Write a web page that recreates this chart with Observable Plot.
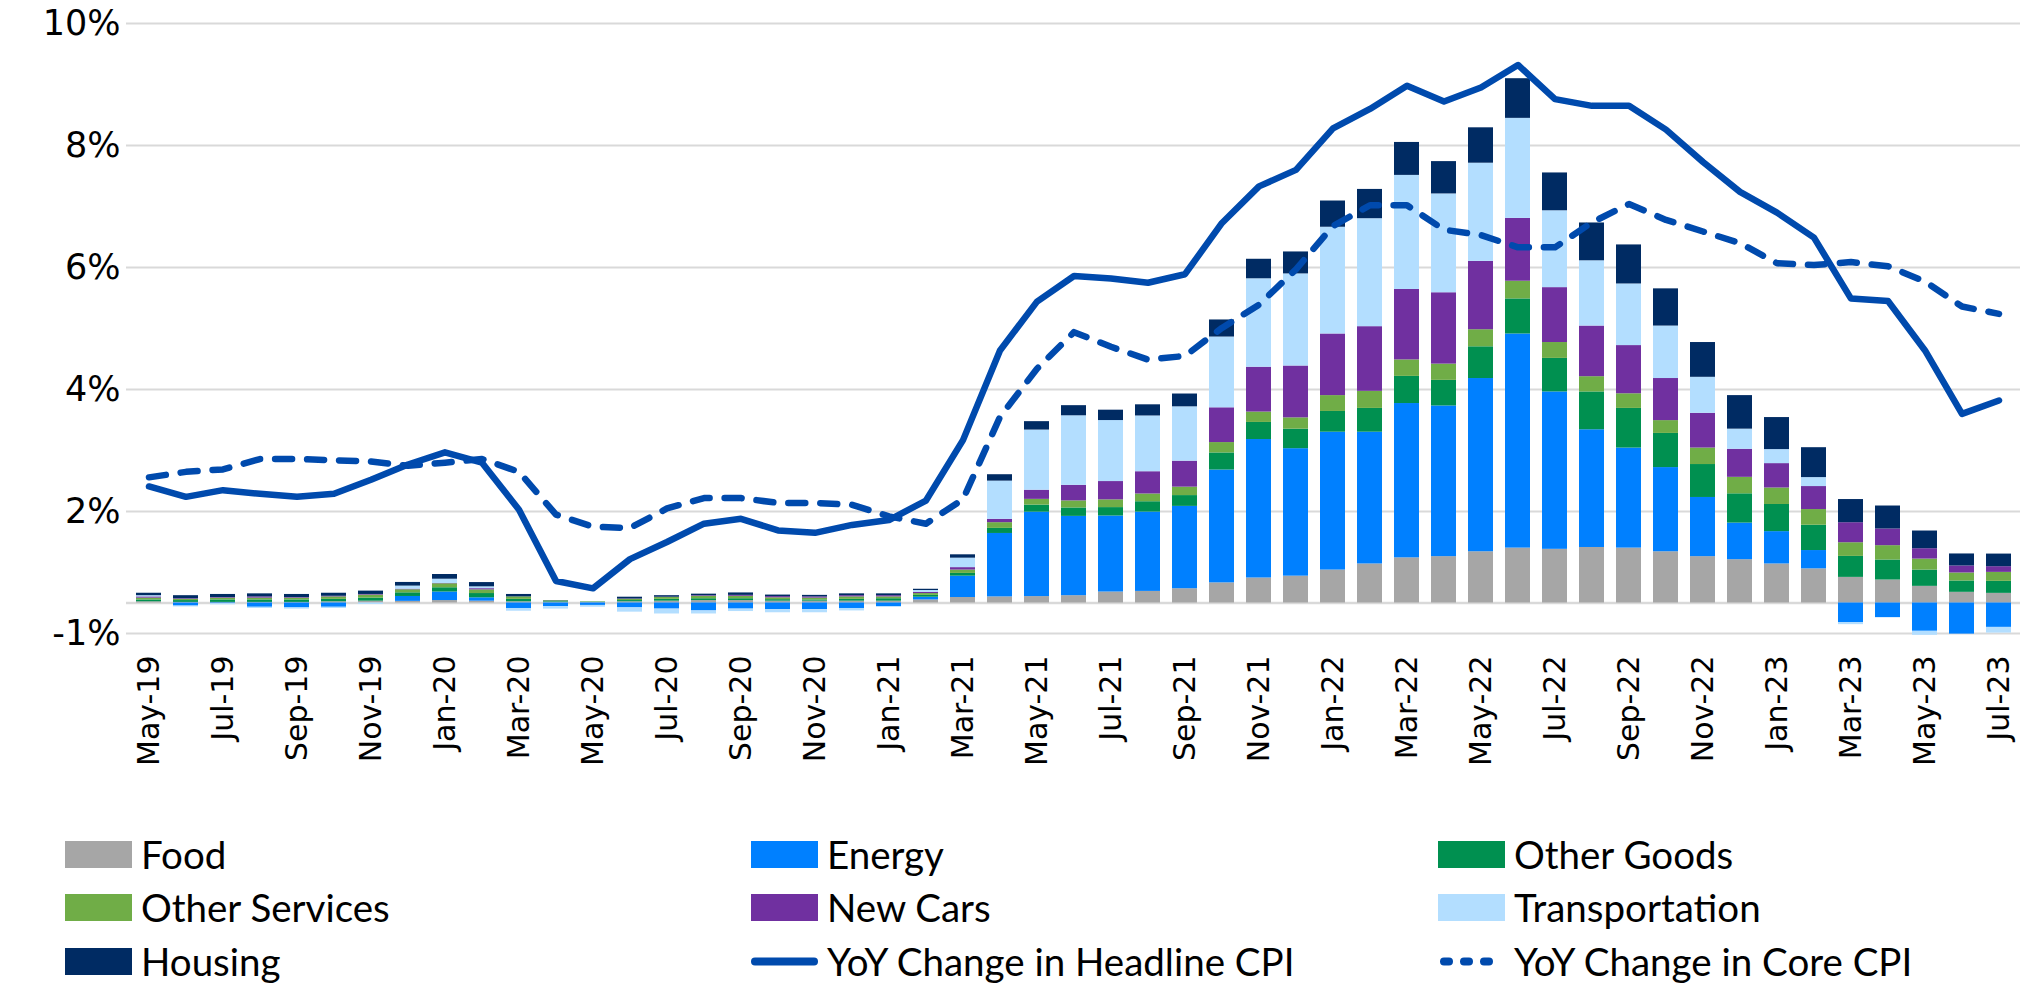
<!DOCTYPE html>
<html><head><meta charset="utf-8">
<script src="https://cdn.jsdelivr.net/npm/d3@7"></script>
<script src="https://cdn.jsdelivr.net/npm/@observablehq/plot@0.6"></script>
<style>
body{margin:0;background:#fff;}
#chart svg{display:block;}
#legend{position:relative;width:2031px;height:183px;font-family:Lato,sans-serif;font-size:38.5px;color:#000;}
.item{position:absolute;display:flex;align-items:center;height:40px;white-space:nowrap;}
.sw{width:67px;height:27px;margin-right:9px;flex:none;}
.ln{width:67px;height:27px;margin-right:9px;flex:none;}
</style></head><body>
<div id="chart"></div><div id="legend"></div>
<script>
const months = ["May-19","Jun-19","Jul-19","Aug-19","Sep-19","Oct-19","Nov-19","Dec-19",
"Jan-20","Feb-20","Mar-20","Apr-20","May-20","Jun-20","Jul-20","Aug-20","Sep-20","Oct-20","Nov-20","Dec-20",
"Jan-21","Feb-21","Mar-21","Apr-21","May-21","Jun-21","Jul-21","Aug-21","Sep-21","Oct-21","Nov-21","Dec-21",
"Jan-22","Feb-22","Mar-22","Apr-22","May-22","Jun-22","Jul-22","Aug-22","Sep-22","Oct-22","Nov-22","Dec-22",
"Jan-23","Feb-23","Mar-23","Apr-23","May-23","Jun-23","Jul-23"];

const seriesNames = ["Food","Energy","Other Goods","Other Services","New Cars","Transportation","Housing"];
const seriesColors = ["#A6A6A6","#0080FF","#009050","#70AD47","#7030A0","#B3DEFF","#002B63"];

const food = [0.02,0.01,0.01,0.01,0.01,0.02,0.03,0.027,0.04,0.03,0.02,0.015,0.01,0.02,0.03,0.04,0.04,0.03,0.03,0.03,
0.03,0.05,0.09,0.1,0.105,0.12,0.18,0.19,0.234,0.33,0.41,0.44,0.54,0.64,0.74,0.76,0.84,0.9,0.88,0.91,0.9,0.84,0.76,0.71,
0.64,0.56,0.42,0.377,0.273,0.175,0.158];
const energy = [0.0,-0.05,-0.01,-0.07,-0.08,-0.07,0.0,0.08,0.14,0.055,-0.09,-0.06,-0.04,-0.08,-0.1,-0.13,-0.1,-0.11,-0.11,-0.09,
-0.06,0.045,0.35,1.04,1.384,1.3,1.246,1.3,1.35,1.85,2.27,2.09,2.26,2.16,2.53,2.47,2.84,3.51,2.58,1.93,1.64,1.38,0.97,0.6,
0.53,0.3,-0.32,-0.24,-0.464,-0.51,-0.4];
const otherGoods = [0.03,0.03,0.04,0.04,0.04,0.04,0.05,0.06,0.07,0.07,0.04,0.01,0.005,0.02,0.03,0.03,0.03,0.025,0.02,0.03,
0.04,0.03,0.045,0.083,0.116,0.138,0.138,0.17,0.177,0.28,0.28,0.32,0.34,0.39,0.445,0.42,0.52,0.575,0.55,0.62,0.65,0.56,0.54,0.48,
0.445,0.415,0.344,0.328,0.267,0.186,0.197];
const otherServices = [0.03,0.02,0.03,0.03,0.03,0.04,0.05,0.05,0.065,0.06,0.04,0.01,0.005,0.02,0.03,0.04,0.04,0.03,0.03,0.04,
0.03,0.03,0.055,0.094,0.094,0.116,0.127,0.127,0.138,0.17,0.17,0.185,0.26,0.28,0.27,0.266,0.28,0.29,0.26,0.25,0.24,0.21,0.27,0.27,
0.27,0.257,0.224,0.235,0.18,0.131,0.147];
const newCars = [0.02,0.01,0.01,0.02,0.01,0.01,0.01,0.01,0.005,0.02,0.0,0.0,0.0,0.005,0.005,0.01,0.015,0.02,0.02,0.02,
0.02,0.02,0.04,0.055,0.15,0.255,0.3,0.365,0.426,0.57,0.735,0.85,1.01,1.06,1.155,1.17,1.12,1.03,0.9,0.83,0.79,0.69,0.57,0.46,
0.4,0.377,0.328,0.273,0.17,0.115,0.093];
const transportation = [0.02,-0.015,-0.02,-0.02,-0.02,-0.02,-0.025,0.05,0.07,0.03,-0.045,-0.04,-0.03,-0.07,-0.08,-0.05,-0.04,-0.05,-0.05,-0.04,
-0.01,0.03,0.155,0.626,0.986,1.14,1.0,0.914,0.891,1.16,1.45,1.51,1.75,1.77,1.87,1.62,1.61,1.64,1.26,1.07,1.01,0.86,0.59,0.33,
0.23,0.147,-0.035,0.0,-0.066,0.0,-0.093];
const housing = [0.04,0.05,0.05,0.05,0.05,0.05,0.055,0.06,0.077,0.07,0.04,0.005,0.0,0.03,0.025,0.025,0.04,0.025,0.025,0.03,
0.03,0.02,0.055,0.105,0.138,0.166,0.17,0.183,0.21,0.28,0.32,0.36,0.43,0.48,0.54,0.53,0.58,0.65,0.62,0.62,0.64,0.61,0.57,0.55,
0.525,0.49,0.38,0.377,0.29,0.197,0.207];

const headlineCPI = [1.91,1.74,1.85,1.79,1.74,1.79,2.02,2.27,2.47,2.3,1.53,0.36,0.24,0.72,1.0,1.3,1.38,1.19,1.15,1.28,
1.36,1.68,2.67,4.14,4.94,5.36,5.32,5.25,5.39,6.23,6.83,7.1,7.78,8.1,8.48,8.22,8.45,8.82,8.26,8.15,8.15,7.76,7.23,6.74,
6.4,5.99,4.99,4.95,4.14,3.1,3.32];
const coreCPI = [2.06,2.15,2.19,2.36,2.36,2.34,2.32,2.25,2.3,2.36,2.15,1.45,1.25,1.23,1.55,1.72,1.72,1.64,1.64,1.61,
1.42,1.3,1.7,3.05,3.84,4.44,4.2,3.99,4.05,4.51,4.89,5.47,6.18,6.52,6.52,6.12,6.03,5.83,5.83,6.24,6.54,6.28,6.09,5.9,
5.57,5.54,5.59,5.52,5.27,4.86,4.74];

const yTicks = [-0.5,1.5,3.5,5.5,7.5,9.5];
const yTickLabels = ["-1%","2%","4%","6%","8%","10%"];
const xTickLabels = months.filter((d,i)=>i%2===0);
const lineNames = ["YoY Change in Headline CPI","YoY Change in Core CPI"];
const lineColor = "#004AAD";

const seriesValues = [food,energy,otherGoods,otherServices,newCars,transportation,housing];
const bars = [];
months.forEach((m,i)=>{
  seriesNames.forEach((s,j)=>{ bars.push({month:m, series:s, value:seriesValues[j][i]}); });
});
const headRows = months.map((m,i)=>({month:m, v:headlineCPI[i]}));
const coreRows = months.map((m,i)=>({month:m, v:coreCPI[i]}));

const W = 2031, H = 800;
const chart = Plot.plot({
  width: W, height: H,
  marginLeft: 126, marginRight: 11, marginTop: 23, marginBottom: H-633,
  style: {background:"white", fontFamily:"'DejaVu Sans', sans-serif", color:"black"},
  x: {type:"band", domain: months, paddingInner:0.33, paddingOuter:0.165, label:null},
  y: {domain:[-0.5,9.5], label:null},
  color: {domain: seriesNames, range: seriesColors},
  marks: [
    Plot.ruleY(yTicks, {stroke:"#D9D9D9", strokeWidth:2}),
    Plot.ruleY([0], {stroke:"#D9D9D9", strokeWidth:2.5}),
    Plot.barY(bars, {x:"month", y:"value", fill:"series"}),
    Plot.line(headRows, {x:"month", y:"v", stroke:lineColor, strokeWidth:6.5, strokeLinejoin:"round"}),
    Plot.line(coreRows, {x:"month", y:"v", stroke:lineColor, strokeWidth:6.5, strokeDasharray:"17,15", strokeLinecap:"round", strokeLinejoin:"round"}),
    Plot.axisY({ticks: yTicks, tickFormat: d => yTickLabels[yTicks.indexOf(d)], tickSize:0, tickPadding:6, fontSize:35, fill:"black", label:null}),
    Plot.axisX({ticks: xTickLabels, tickRotate:-90, tickSize:0, tickPadding:22, fontSize:30, fill:"black", label:null})
  ]
});
document.getElementById("chart").appendChild(chart);

// Legend
const legend = document.getElementById("legend");
const colX = [65, 751, 1438];
const rowY = [54, 107, 161];
const items = seriesNames.map((s,j)=>({label:s, type:"swatch", color:seriesColors[j]}))
  .concat([{label:lineNames[0], type:"solid"},{label:lineNames[1], type:"dash"}]);
items.forEach((it,k)=>{
  const col = k%3, row = Math.floor(k/3);
  const div = document.createElement("div");
  div.className = "item";
  div.style.left = colX[col]+"px";
  div.style.top = (rowY[row]-20)+"px";
  if (it.type==="swatch") {
    const sw = document.createElement("div");
    sw.className="sw"; sw.style.background = it.color;
    div.appendChild(sw);
  } else {
    const ns="http://www.w3.org/2000/svg";
    const svg = document.createElementNS(ns,"svg");
    svg.setAttribute("class","ln"); svg.setAttribute("width","67"); svg.setAttribute("height","27");
    const l = document.createElementNS(ns,"line");
    l.setAttribute("y1","13.5"); l.setAttribute("y2","13.5");
    l.setAttribute("stroke", lineColor); l.setAttribute("stroke-width","8"); l.setAttribute("stroke-linecap","round");
    if (it.type==="dash") { l.setAttribute("x1","6"); l.setAttribute("x2","62"); l.setAttribute("stroke-dasharray","5 15"); }
    else { l.setAttribute("x1","4"); l.setAttribute("x2","63"); }
    svg.appendChild(l);
    div.appendChild(svg);
  }
  const t = document.createElement("span");
  t.textContent = it.label;
  div.appendChild(t);
  legend.appendChild(div);
});
</script>
</body></html>
